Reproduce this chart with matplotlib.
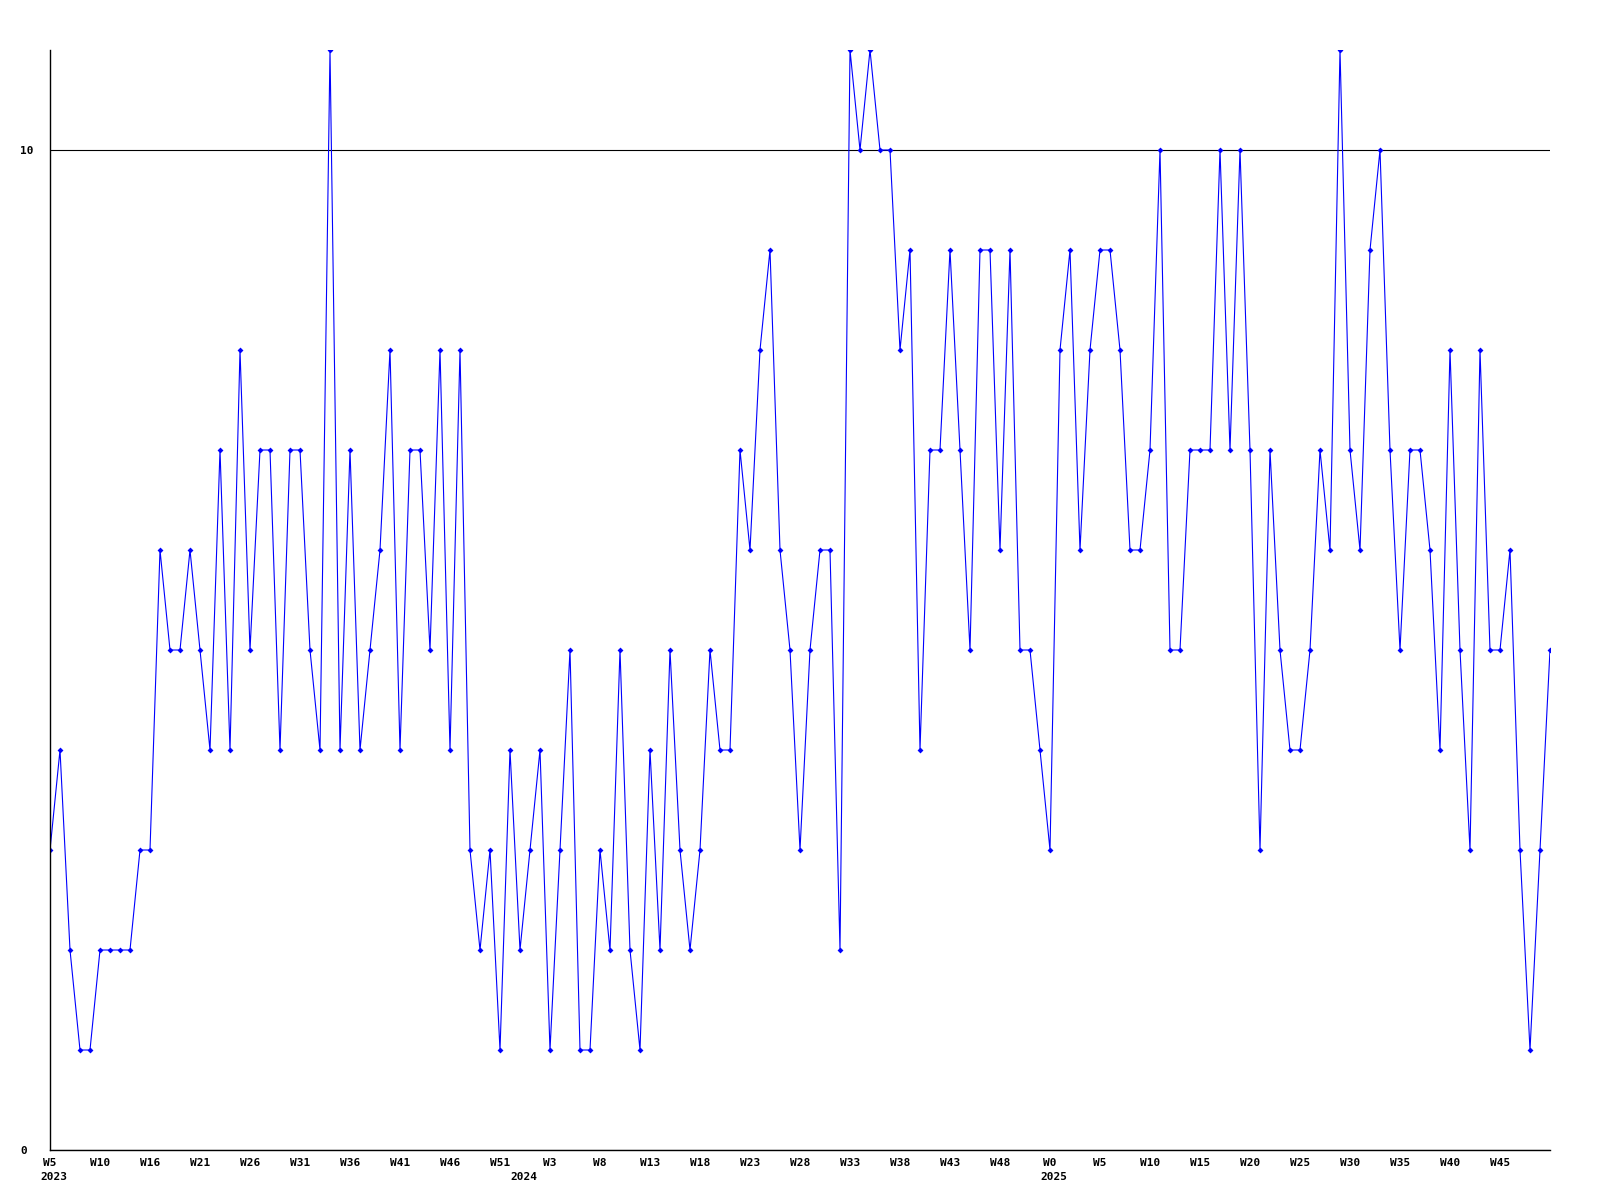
import matplotlib
matplotlib.use('Agg')
import matplotlib.pyplot as plt
import numpy as np

# weekly counts, one value per week
values = [3, 4, 2, 1, 1, 2, 2, 2, 2, 3,
          3, 6, 5, 5, 6, 5, 4, 7, 4, 8,
          5, 7, 7, 4, 7, 7, 5, 4, 11, 4,
          7, 4, 5, 6, 8, 4, 7, 7, 5, 8,
          4, 8, 3, 2, 3, 1, 4, 2, 3, 4,
          1, 3, 5, 1, 1, 3, 2, 5, 2, 1,
          4, 2, 5, 3, 2, 3, 5, 4, 4, 7,
          6, 8, 9, 6, 5, 3, 5, 6, 6, 2,
          11, 10, 11, 10, 10, 8, 9, 4, 7, 7,
          9, 7, 5, 9, 9, 6, 9, 5, 5, 4,
          3, 8, 9, 6, 8, 9, 9, 8, 6, 6,
          7, 10, 5, 5, 7, 7, 7, 10, 7, 10,
          7, 3, 7, 5, 4, 4, 5, 7, 6, 11,
          7, 6, 9, 10, 7, 5, 7, 7, 6, 4,
          8, 5, 3, 8, 5, 5, 6, 3, 1, 3,
          5]

week_labels = ['W5', 'W10', 'W16', 'W21', 'W26', 'W31', 'W36', 'W41', 'W46', 'W51',
               'W3', 'W8', 'W13', 'W18', 'W23', 'W28', 'W33', 'W38', 'W43', 'W48',
               'W0', 'W5', 'W10', 'W15', 'W20', 'W25', 'W30', 'W35', 'W40', 'W45']
label_step = 5

years = ['2023', '2024', '2025']
year_start = [0, 47, 100]  # index of first week of each year

x = np.arange(len(values))

fig = plt.figure(figsize=(16, 12), dpi=100)
ax = fig.add_axes([50/1600, 50/1200, 1500/1600, 1100/1200])

ax.plot(x, values, color='#0000ff', lw=0.8, marker='D', markersize=3, markeredgewidth=0)

ax.set_xlim(0, len(values) - 1)
ax.set_ylim(0, 11)

mono = dict(family='DejaVu Sans Mono', weight='bold', size=8)

ax.set_xticks(x[::label_step][:len(week_labels)])
ax.set_xticklabels(week_labels, **mono)
ax.tick_params(axis='x', length=0, pad=6)

ax.set_yticks([0, 10])
ax.set_yticklabels(['0', '10'], **mono)
ax.tick_params(axis='y', length=0, pad=21.6)
for lbl in ax.get_yticklabels():
    lbl.set_horizontalalignment('left')

ax.grid(axis='y', color='black', lw=0.8)
ax.set_axisbelow(True)

for sp in ['top', 'right']:
    ax.spines[sp].set_visible(False)
ax.spines['left'].set_linewidth(1)
ax.spines['bottom'].set_linewidth(1)

for yr, idx in zip(years, year_start):
    ax.annotate(yr, xy=(idx - 1, 0), xycoords=('data', 'axes fraction'),
                xytext=(0, -16), textcoords='offset points',
                ha='left', va='top', annotation_clip=False, **mono)

fig.savefig('out.png', dpi=100)
